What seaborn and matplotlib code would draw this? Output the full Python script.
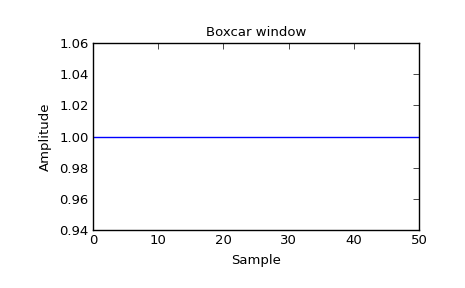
import matplotlib
matplotlib.use("Agg")
import matplotlib.pyplot as plt
import seaborn as sns
import pandas as pd

sample = list(range(51))
amplitude = [1.0, 1.0, 1.0, 1.0, 1.0, 1.0, 1.0, 1.0, 1.0, 1.0,
             1.0, 1.0, 1.0, 1.0, 1.0, 1.0, 1.0, 1.0, 1.0, 1.0,
             1.0, 1.0, 1.0, 1.0, 1.0, 1.0, 1.0, 1.0, 1.0, 1.0,
             1.0, 1.0, 1.0, 1.0, 1.0, 1.0, 1.0, 1.0, 1.0, 1.0,
             1.0, 1.0, 1.0, 1.0, 1.0, 1.0, 1.0, 1.0, 1.0, 1.0,
             1.0]
xticks = [0, 10, 20, 30, 40, 50]
yticks = [0.94, 0.96, 0.98, 1.00, 1.02, 1.04, 1.06]

sns.set_style("white")
plt.rcParams['font.family'] = ['DejaVu Sans']
plt.rcParams.update({
    'xtick.direction': 'in', 'ytick.direction': 'in',
    'xtick.top': True, 'ytick.right': True,
    'xtick.major.size': 4, 'ytick.major.size': 4,
    'xtick.major.width': 0.5, 'ytick.major.width': 0.5,
    'axes.edgecolor': 'black', 'axes.linewidth': 1.0,
    'text.color': 'black', 'axes.labelcolor': 'black',
})

df = pd.DataFrame({'Sample': sample, 'Amplitude': amplitude})

fs = 9.5
fig = plt.figure(figsize=(4.65, 2.88), dpi=100)
ax = fig.add_axes([0.2, 0.201, 0.701, 0.650])
sns.lineplot(data=df, x='Sample', y='Amplitude', ax=ax, color='#0000ff', linewidth=1.0)
ax.set_xlim(0, 50)
ax.set_ylim(0.94, 1.06)
ax.set_xticks(xticks)
ax.set_yticks(yticks)
ax.set_xticklabels([str(t) for t in xticks])
ax.set_yticklabels([f"{t:.2f}" for t in yticks])
ax.tick_params(labelsize=fs, colors='black', pad=3)
ax.set_xlabel('Sample', fontsize=fs, color='black', labelpad=5)
ax.set_ylabel('Amplitude', fontsize=fs, color='black', labelpad=5)
ax.set_title('Boxcar window', fontsize=fs, color='black', pad=5)
for s in ax.spines.values():
    s.set_visible(True)
    s.set_color('black')
fig.savefig('out.png', dpi=100)
